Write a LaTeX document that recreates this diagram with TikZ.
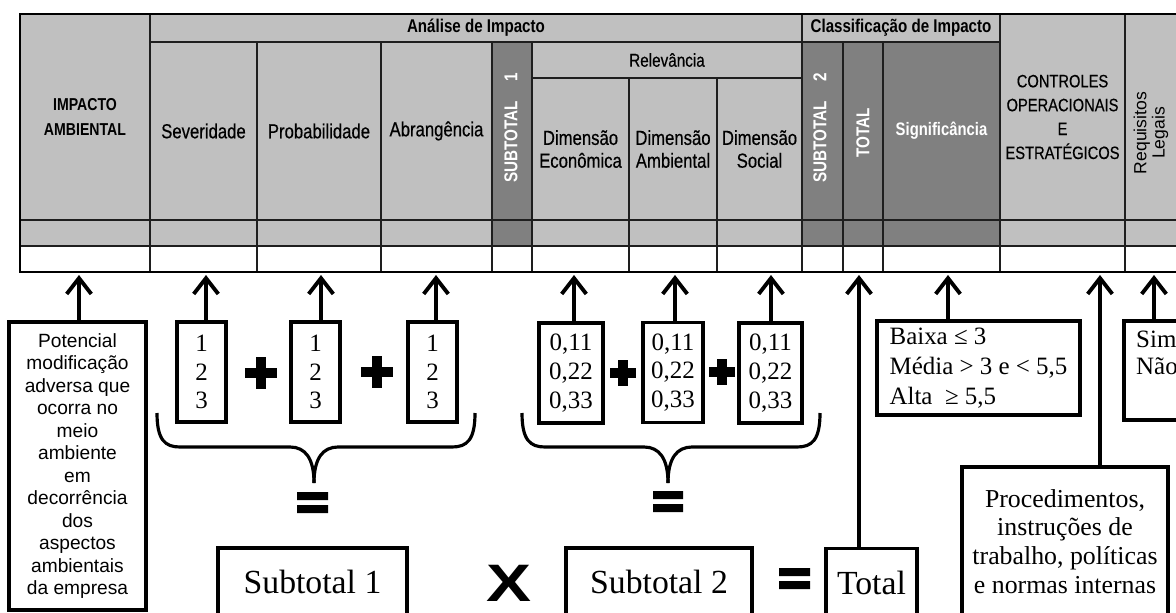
\documentclass[tikz,border=0pt]{standalone}
\usepackage{fontspec}
\setmainfont{Liberation Serif}
\newfontfamily\arialfont{Liberation Sans}
\newfontfamily\narrowfont[FakeStretch=0.82, UprightFeatures={FakeBold=0.4}]{Liberation Sans}
\usetikzlibrary{arrows.meta}
\definecolor{cinzaclaro}{HTML}{C0C0C0}
\definecolor{cinzaescuro}{HTML}{808080}
\definecolor{linha}{HTML}{1E1E1E}

\begin{document}
\begin{tikzpicture}[x=0.02cm, y=-0.02cm,
    cab/.style={font=\narrowfont\fontsize{11.6}{13}\selectfont, align=center, inner sep=0pt},
    cabneg/.style={font=\narrowfont\bfseries\fontsize{10.5}{14.2}\selectfont, align=center, inner sep=0pt},
    cabvert/.style={font=\narrowfont\bfseries\fontsize{10.6}{12}\selectfont, text=white, rotate=90, inner sep=0pt},
    caixa/.style={draw, line width=1.8pt, align=center, inner sep=0pt},
    valores/.style={caixa, font=\fontsize{14.2}{16.4}\selectfont, minimum height=2cm},
    grande/.style={caixa, font=\fontsize{19.2}{22}\selectfont, minimum height=1.36cm},
    seta/.style={line width=2.2pt, -{Straight Barb[length=9pt,width=14pt]}},
    chave/.style={line width=1.8pt},
    mais/.style={line width=5.5pt}]

    \useasboundingbox (0,0) rectangle (1176,612);
    \clip (0,0) rectangle (1176,612);

    % tabela
    \fill[cinzaclaro] (20,14) rectangle (1190,246);
    \fill[cinzaescuro] (492,42) rectangle (532,246) (802,42) rectangle (1000,246);
    \draw[linha, line width=0.6pt] (150,42) -- (1000,42) (532,78) -- (802,78)
        (20,220) -- (1190,220) (20,246) -- (1190,246);
    \draw[linha, line width=0.6pt] (150,14) -- (150,272) (802,14) -- (802,272)
        (1000,14) -- (1000,272) (1125,14) -- (1125,272)
        (257,42) -- (257,272) (381,42) -- (381,272) (492,42) -- (492,272) (532,42) -- (532,272)
        (843,42) -- (843,272) (883,42) -- (883,272) (629,78) -- (629,272) (717,78) -- (717,272);
    \draw[line width=1.6pt] (1190,14) -- (20,14) -- (20,272) -- (1190,272);

    \node[cabneg, font=\narrowfont\bfseries\fontsize{9.8}{14.2}\selectfont] (hImp) at (85,117) {IMPACTO\\AMBIENTAL};
    \node[cabneg] (hAna) at (476,28) {Análise de Impacto};
    \node[cabneg] (hCla) at (901,28) {Classificação de Impacto};
    \node[cab] (hSev) at (203.5,131) {Severidade};
    \node[cab] (hProb) at (319,131) {Probabilidade};
    \node[cab] (hAbr) at (436.5,131) {Abrangência};
    \node[cabvert] (hSub1) at (511,128) {SUBTOTAL\hspace{11pt}1};
    \node[cab, font=\narrowfont\fontsize{10.6}{13}\selectfont] (hRel) at (667,60) {Relevância};
    \node[cab] (hEco) at (580.5,149) {Dimensão\\Econômica};
    \node[cab] (hAmb) at (673,149) {Dimensão\\Ambiental};
    \node[cab] (hSoc) at (759.5,149) {Dimensão\\Social};
    \node[cabvert] (hSub2) at (820,128) {SUBTOTAL\hspace{11pt}2};
    \node[cabvert] (hTot) at (863,133) {TOTAL};
    \node[cabneg, text=white, font=\narrowfont\bfseries\fontsize{10.3}{13}\selectfont] (hSig) at (941.5,131) {Significância};
    \node[cab, font=\narrowfont\fontsize{10.2}{13.6}\selectfont] (hCon) at (1062.5,117) {CONTROLES\\OPERACIONAIS\\E\\ESTRATÉGICOS};
    \node[cab, rotate=90, font=\arialfont\fontsize{10}{10.4}\selectfont] (hReq) at (1151,133) {Requisitos\\Legais};

    % pontas das setas
    \coordinate (tImp) at (79,275);
    \coordinate (tSev) at (206,275);
    \coordinate (tProb) at (321,275);
    \coordinate (tAbr) at (436,275);
    \coordinate (tEco) at (574,275);
    \coordinate (tAmb) at (675,275);
    \coordinate (tSoc) at (771,275);
    \coordinate (tTot) at (859,275);
    \coordinate (tSig) at (948,275);
    \coordinate (tCon) at (1100,275);
    \coordinate (tReq) at (1154,275);

    \node[caixa, font=\arialfont\fontsize{10.9}{12.8}\selectfont, minimum width=2.74cm, minimum height=5.76cm] (pot) at (77.5,466)
        {Potencial\\modificação\\adversa que\\ocorra no\\meio\\ambiente\\em\\decorrência\\dos\\aspectos\\ambientais\\da empresa};
    \node[valores, minimum width=0.98cm] (sev) at (201.5,372) {1\\2\\3};
    \node[valores, minimum width=0.98cm] (prob) at (315.5,372) {1\\2\\3};
    \node[valores, minimum width=0.98cm] (abr) at (432.5,372) {1\\2\\3};
    \node[valores, minimum width=1.28cm] (eco) at (571,373) {0,11\\0,22\\0,33};
    \node[valores, minimum width=1.2cm] (amb) at (673,372.5) {0,11\\0,22\\0,33};
    \node[valores, minimum width=1.26cm] (soc) at (770.5,373) {0,11\\0,22\\0,33};
    \node[grande, minimum width=3.78cm] (sub1) at (312.5,582) {Subtotal 1};
    \node[grande, minimum width=3.72cm] (sub2) at (659,582) {Subtotal 2};
    \node[grande, minimum width=1.82cm] (tot) at (871.5,582.5) {Total};
    \node[caixa, align=left, font=\fontsize{14.2}{17}\selectfont, minimum width=4.06cm, minimum height=1.88cm] (sig) at (978.5,368)
        {Baixa ≤ 3\\Média > 3 e < 5,5\\Alta \ ≥ 5,5};
    \node[caixa, font=\fontsize{14.7}{16.4}\selectfont, minimum width=4.12cm, minimum height=2.98cm] (proc) at (1065,541.5)
        {Procedimentos,\\instruções de\\trabalho, políticas\\e normas internas};
    \node[caixa, align=left, font=\fontsize{14.2}{15.5}\selectfont, minimum width=1.32cm, minimum height=1.98cm] (req) at (1157,370.5)
        {Sim\\Não\\\strut};
    \node[font=\arialfont\bfseries\fontsize{30}{30}\selectfont, inner sep=0pt] (vezes) at (509,583) {\scalebox{1.28}[1]{X}};

    \draw[seta] (pot.north -| tImp) -- (tImp);
    \draw[seta] (sev.north -| tSev) -- (tSev);
    \draw[seta] (prob.north -| tProb) -- (tProb);
    \draw[seta] (abr.north -| tAbr) -- (tAbr);
    \draw[seta] (eco.north -| tEco) -- (tEco);
    \draw[seta] (amb.north -| tAmb) -- (tAmb);
    \draw[seta] (soc.north -| tSoc) -- (tSoc);
    \draw[seta] (tot.north -| tTot) -- (tTot);
    \draw[seta] (sig.north -| tSig) -- (tSig);
    \draw[seta] (proc.north -| tCon) -- (tCon);
    \draw[seta] (req.north -| tReq) -- (tReq);

    % sinais
    \draw[mais] (245,373) -- (277,373) (261,357) -- (261,389);
    \draw[mais] (361,372) -- (393,372) (377,356) -- (377,388);
    \draw[mais] (610,373) -- (636,373) (623,360) -- (623,386);
    \draw[mais] (709,372) -- (735,372) (722,359) -- (722,385);
    \fill (297,492) rectangle (328,500) (297,505) rectangle (328,513);
    \fill (653,491) rectangle (683,499) (653,504) rectangle (683,512);
    \fill (779,568) rectangle (810,576) (779,581) rectangle (810,589);

    \draw[chave] (157,413) .. controls (157,440) and (165,447) .. (180,447) -- (290,447)
        .. controls (305,447) and (314,458) .. (314,483);
    \draw[chave] (475,413) .. controls (475,440) and (467,447) .. (452,447) -- (338,447)
        .. controls (323,447) and (314,458) .. (314,483);
    \draw[chave] (522,413) .. controls (522,440) and (530,447) .. (545,447) -- (644,447)
        .. controls (659,447) and (668,458) .. (668,483);
    \draw[chave] (820,413) .. controls (820,440) and (812,447) .. (797,447) -- (692,447)
        .. controls (677,447) and (668,458) .. (668,483);

\end{tikzpicture}
\end{document}
